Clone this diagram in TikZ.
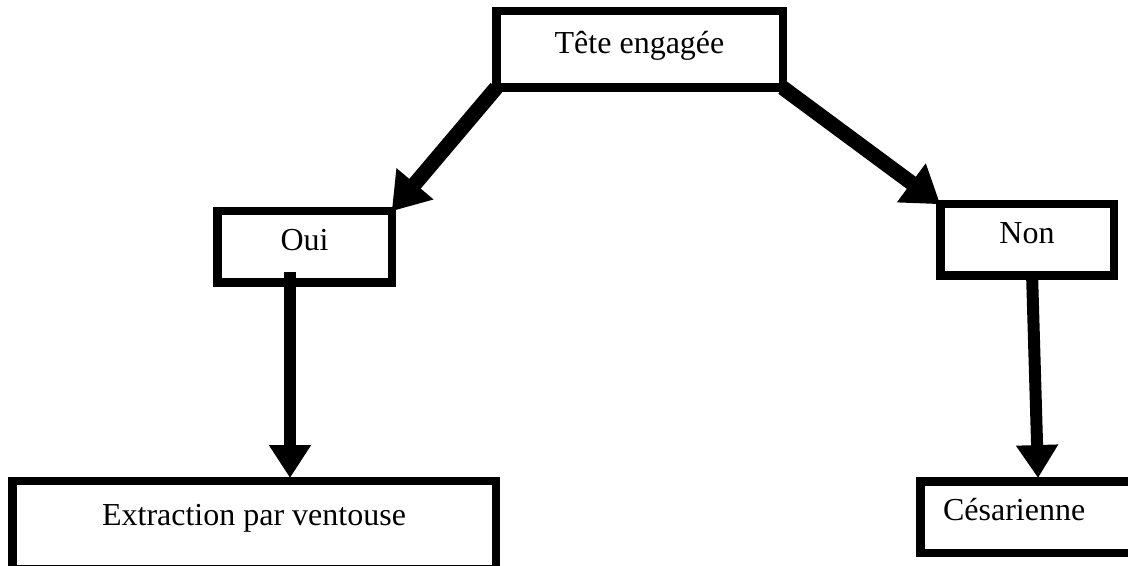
\documentclass[tikz,border=0pt]{standalone}
\usepackage{fontspec}
\setmainfont{Liberation Serif}
\usetikzlibrary{arrows.meta}
\begin{document}
\begin{tikzpicture}[x=0.5pt,y=-0.5pt,
  box/.style={draw=black, line width=4.25pt, rectangle, outer sep=0pt, inner sep=0pt,
    font=\fontsize{16}{19}\selectfont, text height=0.64em, text depth=0.28em},
  flow/.style={line width=6pt, -{Triangle[length=16.5pt,width=20pt]}},
  slant/.style={line width=7.5pt, -{Triangle[length=18pt,width=23pt]}}
]
\useasboundingbox (0,0) rectangle (1128,566);
\begin{scope}
\clip (0,0) rectangle (1128,566);
% decision and outcome boxes
\node[box, minimum width=143.25pt, minimum height=38.25pt] (tete) at (639.5,49.5) {Tête engagée};
\node[box, minimum width=87.25pt, minimum height=35.75pt] (oui) at (304.5,247) {Oui};
\node[box, minimum width=86.75pt, minimum height=35.75pt] (non) at (1027,240) {Non};
\node[box, minimum width=241.75pt, minimum height=43.9pt, text height=0.7em, text depth=0.65em] (ext) at (254,525.1) {Extraction par ventouse};
\node[box, minimum height=35.75pt, inner xsep=11.4pt, text width=87pt, align=left] (ces) at (1030.05,517) {Césarienne};
% branches
\draw[slant] (tete.south west) -- (oui.north east);
\draw[slant] (tete.south east) -- (non.north west);
\draw[flow] ([xshift=-7.25pt,yshift=5.4pt]oui.south) -- ([xshift=18pt,yshift=1.6pt]ext.north);
\draw[flow] ([xshift=2.5pt,yshift=1.4pt]non.south) -- ([xshift=58.9pt,yshift=1.6pt]ces.north west);
\end{scope}
\end{tikzpicture}
\end{document}
